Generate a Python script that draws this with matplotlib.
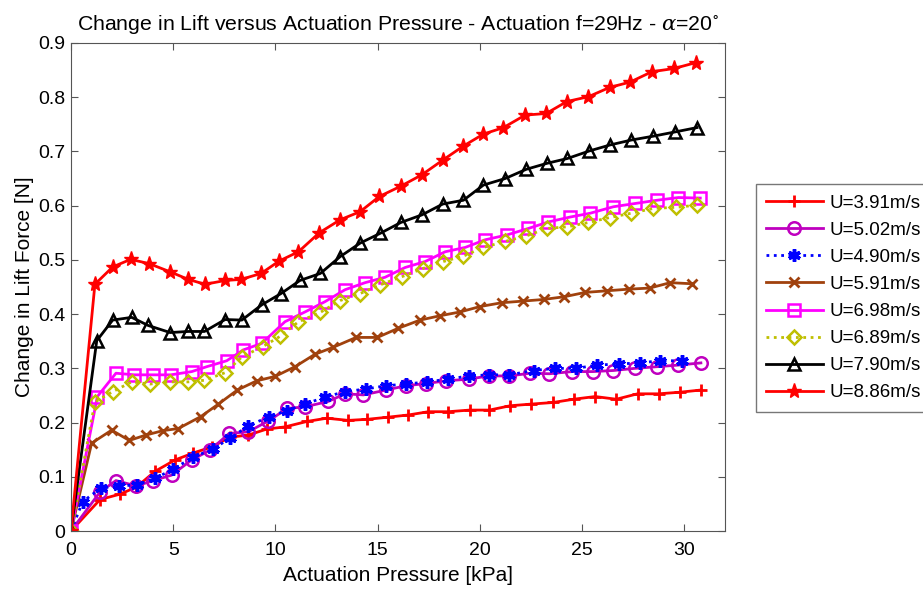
import numpy as np
import matplotlib
matplotlib.use("Agg")
import matplotlib.pyplot as plt

plt.rcParams.update({"font.family": ["Liberation Sans", "DejaVu Sans"], "mathtext.fontset": "dejavuserif"})

# U=3.91 (red +)
x391 = [0, 1.42, 2.40, 3.2, 4.11, 5.09, 5.99, 6.89, 7.78, 8.68, 9.58, 10.47, 11.54, 12.51, 13.57, 14.5,
        15.53, 16.51, 17.49, 18.46, 19.5, 20.47, 21.49, 22.5, 23.58, 24.59, 25.65, 26.68, 27.72, 28.75, 29.81, 30.82]
y391 = [0, 0.058, 0.068, 0.081, 0.11, 0.131, 0.144, 0.155, 0.173, 0.177, 0.188, 0.192, 0.202, 0.208, 0.204, 0.206,
        0.210, 0.214, 0.220, 0.220, 0.223, 0.223, 0.231, 0.234, 0.237, 0.243, 0.248, 0.243, 0.253, 0.253, 0.256, 0.260]
# U=5.02 (purple o)
x502 = [0, 1.42, 2.2, 3.2, 4.02, 4.92, 5.9, 6.8, 7.74, 8.68, 9.65, 10.59, 11.45, 12.59, 13.41, 14.31,
        15.42, 16.4, 17.38, 18.36, 19.45, 20.43, 21.45, 22.47, 23.41, 24.51, 25.53, 26.54, 27.6, 28.67, 29.72, 30.82]
y502 = [0, 0.072, 0.093, 0.083, 0.093, 0.103, 0.131, 0.149, 0.180, 0.183, 0.203, 0.226, 0.229, 0.239, 0.253, 0.251,
        0.260, 0.268, 0.272, 0.277, 0.280, 0.286, 0.286, 0.291, 0.290, 0.294, 0.294, 0.296, 0.300, 0.303, 0.306, 0.310]
# U=4.90 (blue *)
x490 = [0, 0.57, 1.45, 2.35, 3.22, 4.11, 5.0, 5.96, 6.93, 7.78, 8.68, 9.7, 10.56, 11.45, 12.43, 13.41,
        14.44, 15.42, 16.4, 17.41, 18.46, 19.45, 20.47, 21.45, 22.63, 23.69, 24.72, 25.73, 26.79, 27.82, 28.83, 29.89]
y490 = [0, 0.054, 0.079, 0.083, 0.085, 0.097, 0.114, 0.136, 0.151, 0.171, 0.194, 0.211, 0.222, 0.234, 0.247, 0.257,
        0.262, 0.268, 0.271, 0.275, 0.280, 0.286, 0.288, 0.288, 0.296, 0.300, 0.300, 0.306, 0.308, 0.310, 0.314, 0.314]
# U=5.91 (brown x)
x591 = [0, 1.01, 1.99, 2.85, 3.67, 4.49, 5.25, 6.35, 7.21, 8.14, 9.09, 9.98, 10.96, 11.94, 12.84, 13.95,
        14.99, 16.02, 17.08, 18.06, 19.04, 20.02, 21.08, 22.11, 23.12, 24.13, 25.16, 26.22, 27.28, 28.31, 29.32, 30.38]
y591 = [0, 0.162, 0.186, 0.167, 0.177, 0.185, 0.189, 0.211, 0.234, 0.260, 0.277, 0.285, 0.303, 0.326, 0.339, 0.357,
        0.357, 0.374, 0.389, 0.397, 0.404, 0.414, 0.421, 0.424, 0.427, 0.432, 0.440, 0.443, 0.446, 0.448, 0.458, 0.456]
# U=6.98 (magenta squares)
x698 = [0, 1.29, 2.2, 3.1, 4.0, 4.88, 5.91, 6.64, 7.62, 8.43, 9.33, 10.47, 11.45, 12.43, 13.41, 14.39,
        15.37, 16.35, 17.33, 18.31, 19.29, 20.26, 21.33, 22.38, 23.36, 24.42, 25.4, 26.54, 27.6, 28.67, 29.72, 30.79]
y698 = [0, 0.248, 0.291, 0.288, 0.288, 0.288, 0.294, 0.303, 0.314, 0.334, 0.346, 0.386, 0.404, 0.423, 0.445, 0.458,
        0.468, 0.486, 0.497, 0.515, 0.523, 0.537, 0.546, 0.558, 0.570, 0.579, 0.586, 0.598, 0.604, 0.610, 0.615, 0.614]
# U=6.89 (olive diamonds)
x689 = [0, 1.17, 2.04, 2.97, 3.87, 4.85, 5.74, 6.53, 7.54, 8.36, 9.38, 10.23, 11.13, 12.19, 13.17, 14.15,
        15.13, 16.19, 17.21, 18.22, 19.2, 20.18, 21.24, 22.27, 23.28, 24.29, 25.32, 26.35, 27.4, 28.5, 29.61, 30.63]
y689 = [0, 0.238, 0.257, 0.275, 0.271, 0.275, 0.275, 0.278, 0.292, 0.321, 0.340, 0.359, 0.386, 0.403, 0.425, 0.438,
        0.454, 0.469, 0.484, 0.497, 0.507, 0.523, 0.534, 0.544, 0.558, 0.561, 0.569, 0.578, 0.586, 0.595, 0.597, 0.601]
# U=7.90 (black triangles)
x790 = [0, 1.26, 2.04, 2.97, 3.78, 4.85, 5.74, 6.53, 7.54, 8.36, 9.33, 10.28, 11.2, 12.2, 13.17, 14.15,
        15.13, 16.14, 17.17, 18.19, 19.2, 20.18, 21.24, 22.27, 23.28, 24.29, 25.37, 26.38, 27.41, 28.47, 29.56, 30.63]
y790 = [0, 0.351, 0.389, 0.394, 0.379, 0.366, 0.368, 0.368, 0.390, 0.389, 0.417, 0.438, 0.462, 0.475, 0.506, 0.531,
        0.549, 0.569, 0.583, 0.603, 0.610, 0.638, 0.650, 0.667, 0.678, 0.687, 0.701, 0.712, 0.721, 0.728, 0.736, 0.744]
# U=8.86 (red stars)
x886 = [0, 1.17, 2.04, 2.92, 3.83, 4.85, 5.74, 6.56, 7.54, 8.32, 9.30, 10.19, 11.13, 12.15, 13.17, 14.15,
        15.09, 16.14, 17.17, 18.19, 19.2, 20.18, 21.16, 22.22, 23.25, 24.26, 25.32, 26.35, 27.36, 28.42, 29.51, 30.59]
y886 = [0, 0.455, 0.487, 0.501, 0.493, 0.478, 0.464, 0.455, 0.462, 0.464, 0.475, 0.498, 0.515, 0.550, 0.574, 0.589,
        0.617, 0.636, 0.657, 0.684, 0.710, 0.732, 0.744, 0.767, 0.770, 0.792, 0.801, 0.818, 0.828, 0.847, 0.853, 0.864]

labels = ["U=3.91m/s", "U=5.02m/s", "U=4.90m/s", "U=5.91m/s", "U=6.98m/s", "U=6.89m/s", "U=7.90m/s", "U=8.86m/s"]

fig = plt.figure(figsize=(9.23, 5.89), dpi=100)
ax = fig.add_axes([71 / 923, 1 - 531 / 589, (725 - 71) / 923, (531 - 43) / 589])

asterisk = (6, 2, 0)
styles = [
    (x391, y391, dict(color="#ff0000", ls="-", marker="+", ms=9, mew=2)),
    (x502, y502, dict(color="#bf00bf", ls="-", marker="o", ms=9, mfc="none", mew=1.8)),
    (x490, y490, dict(color="#0000ff", ls=":", marker=asterisk, ms=9, mew=2.5)),
    (x591, y591, dict(color="#a0410d", ls="-", marker="x", ms=7, mew=2)),
    (x698, y698, dict(color="#ff00ff", ls="-", marker="s", ms=8, mfc="none", mew=1.8)),
    (x689, y689, dict(color="#bfbf00", ls=":", marker="D", ms=7.5, mfc="none", mew=1.8)),
    (x790, y790, dict(color="#000000", ls="-", marker="^", ms=9, mfc="none", mew=1.8)),
    (x886, y886, dict(color="#ff0000", ls="-", marker="*", ms=11, mew=1)),
]
for (xs, ys, st), lab in zip(styles, labels):
    ax.plot(xs, ys, lw=2, label=lab, **st)

ax.set_xlim(0, 32)
ax.set_ylim(0, 0.9)
ax.set_xticks([0, 5, 10, 15, 20, 25, 30])
ax.set_yticks(np.arange(0, 0.91, 0.1))
ax.set_yticklabels(["0", "0.1", "0.2", "0.3", "0.4", "0.5", "0.6", "0.7", "0.8", "0.9"])
ax.tick_params(direction="in", top=True, right=True, length=5, labelsize=14, color="#555555")
ax.tick_params(axis="x", pad=8)
ax.tick_params(axis="y", pad=4)
for s in ax.spines.values():
    s.set_color("#555555")
ax.set_xlabel("Actuation Pressure [kPa]", fontsize=15, labelpad=5)
ax.set_ylabel("Change in Lift Force [N]", fontsize=15, labelpad=3)
ax.set_title(r"Change in Lift versus Actuation Pressure - Actuation f=29Hz - $\alpha$=20$^{\circ}$",
             fontsize=15.3, pad=9)

# legend sits outside, right of the axes; its frame runs past the figure edge as in the reference
leg = ax.legend(loc="center left", bbox_to_anchor=(756 / 923, 1 - 298 / 589), bbox_transform=fig.transFigure,
                fontsize=13.5, handlelength=3.0, labelspacing=0.53, borderaxespad=0, frameon=True,
                fancybox=False, edgecolor="#555555", borderpad=0.55, handletextpad=0.37)
leg.get_frame().set_linewidth(1)

fig.savefig("out.png", dpi=100)
